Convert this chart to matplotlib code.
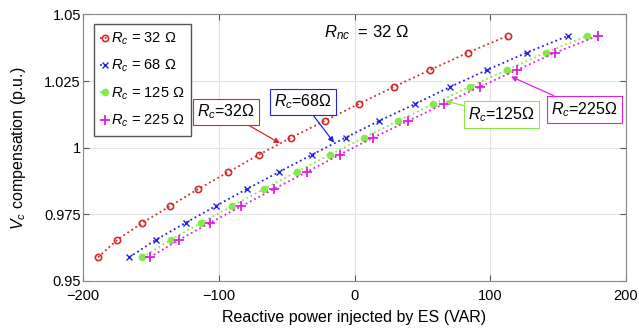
import matplotlib
matplotlib.use("Agg")
import matplotlib.pyplot as plt

plt.rcParams['font.family'] = ['Liberation Sans', 'DejaVu Sans']
plt.rcParams['mathtext.fontset'] = 'custom'
plt.rcParams['mathtext.rm'] = 'Liberation Sans'
plt.rcParams['mathtext.it'] = 'Liberation Sans:italic'

# Data
vc = [0.9589, 0.9655, 0.9718, 0.9781, 0.9845, 0.9909, 0.9974, 1.0038,
      1.0101, 1.0164, 1.0229, 1.0292, 1.0357, 1.0420]
q_32 = [-188.9, -174.7, -156.4, -135.9, -115.2, -92.9, -70.4, -46.6,
        -22.0, 3.0, 29.2, 55.6, 83.6, 112.8]
q_68 = [-166.0, -146.2, -124.5, -102.3, -79.4, -55.6, -31.3, -6.6,
        18.3, 44.5, 70.7, 97.7, 126.9, 157.3]
q_125 = [-156.4, -135.3, -113.1, -90.2, -66.8, -42.7, -18.0, 6.9,
         32.2, 58.0, 84.8, 112.2, 140.8, 171.4]
q_225 = [-151.0, -129.0, -106.5, -83.3, -59.5, -35.2, -10.8, 13.8,
         39.7, 65.6, 92.3, 119.7, 148.0, 179.3]
labels = ['$R_c$ = 32 Ω', '$R_c$ = 68 Ω', '$R_c$ = 125 Ω', '$R_c$ = 225 Ω']
xticks = [-200, -100, 0, 100, 200]
yticks = [0.95, 0.975, 1.0, 1.025, 1.05]
ytick_labels = ['0.95', '0.975', '1', '1.025', '1.05']

c_red = '#d42a2a'
c_blue = '#2323e6'
c_green = '#86e84a'
c_mag = '#e01ee0'

fig = plt.figure(figsize=(6.39, 3.28), dpi=100)
ax = fig.add_axes([0.1299, 0.1433, 0.8498, 0.8125])

ax.plot(q_32, vc, ':', color=c_red, lw=1.3, marker='o', ms=4.5,
        mfc='none', mec=c_red, mew=1.2, label=labels[0])
ax.plot(q_68, vc, ':', color=c_blue, lw=1.3, marker='x', ms=5,
        mec=c_blue, mew=1.0, label=labels[1])
ax.plot(q_125, vc, ':', color=c_green, lw=1.3, marker='o', ms=4.5,
        mfc=c_green, mec=c_green, mew=1.0, label=labels[2])
ax.plot(q_225, vc, ':', color=c_mag, lw=1.3, marker='+', ms=7,
        mec=c_mag, mew=1.3, label=labels[3])

ax.set_xlim(-200, 200)
ax.set_ylim(0.95, 1.05)
ax.set_xticks(xticks)
ax.set_yticks(yticks)
ax.set_yticklabels(ytick_labels)
ax.tick_params(direction='in', top=True, right=True, labelsize=10.5,
               length=4, color='#555555')
ax.tick_params(axis='y', pad=1.5)
ax.tick_params(axis='x', pad=5.5)
ax.grid(True, color='#e3e3e3', lw=0.8)
ax.set_axisbelow(True)
for s in ax.spines.values():
    s.set_color('#888888')
    s.set_linewidth(0.8)

ax.set_xlabel('Reactive power injected by ES (VAR)', fontsize=11.5, labelpad=5.5)
ax.set_ylabel('$V_c$ compensation (p.u.)', fontsize=11.5, labelpad=12)

leg = ax.legend(loc='upper left', bbox_to_anchor=(0.02, 0.964),
                borderaxespad=0, fontsize=10.5, handlelength=0.6,
                handletextpad=0.12, labelspacing=0.75, borderpad=0.45,
                fancybox=False, framealpha=1, edgecolor='#555555')
leg.get_frame().set_linewidth(1.0)

ax.text(9.0, 1.0431, '$R_{nc}$  = 32 Ω', fontsize=12, ha='center', va='center')

annots = [
    ('$R_c$=32Ω', c_red, (-95.0, 1.0134), (-54.9, 1.0017)),
    ('$R_c$=68Ω', c_blue, (-37.9, 1.0172), (-15.1, 1.0019)),
    ('$R_c$=125Ω', c_green, (108.4, 1.0125), (66.7, 1.0175)),
    ('$R_c$=225Ω', c_mag, (169.4, 1.0144), (115.3, 1.0267)),
]
for txt, col, xyt, xy in annots:
    ax.annotate(txt, xy=xy, xytext=xyt, fontsize=11.5, ha='center', va='center',
                bbox=dict(boxstyle='square,pad=0.25', fc='white', ec=col, lw=0.8),
                arrowprops=dict(arrowstyle='-|>', color=col, lw=0.9,
                                mutation_scale=8, shrinkA=0, shrinkB=0))

fig.savefig('out.png', dpi=100)
